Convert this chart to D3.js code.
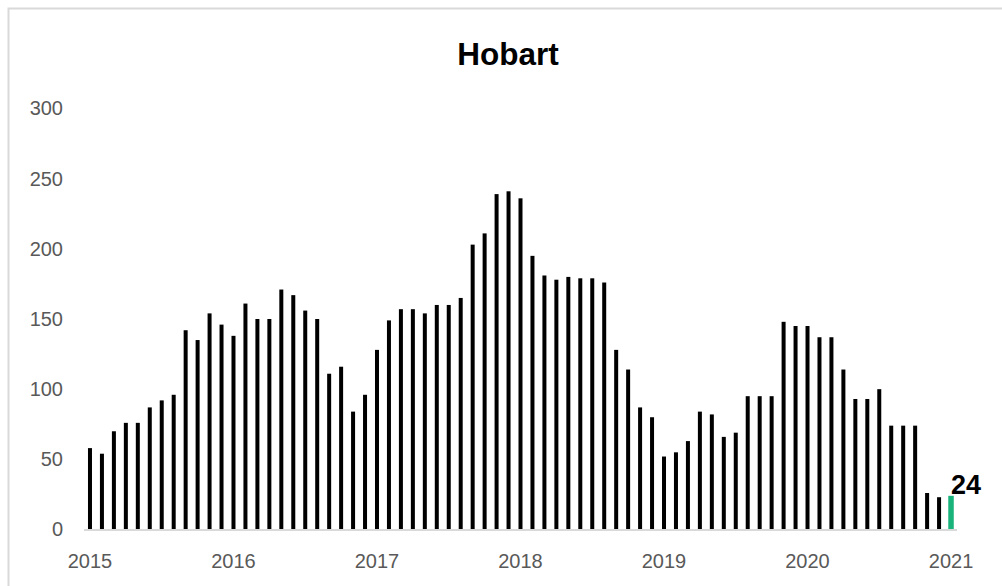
<!DOCTYPE html>
<html>
<head>
<meta charset="utf-8">
<script src="https://cdn.jsdelivr.net/npm/d3@7"></script>
<style>
    body { margin: 0; background: #fff; }
    svg { display: block; font-family: "Liberation Sans", Arial, sans-serif; }
</style>
</head>
<body>
<div id="chart-area"></div>
<script>
// Hobart - monthly values, Jan 2015 to Jan 2021
var chartTitle = "Hobart";
var values2015 = [58, 54, 70, 76, 76, 87, 92, 96, 142, 135, 154, 146];
var values2016 = [138, 161, 150, 150, 171, 167, 156, 150, 111, 116, 84, 96];
var values2017 = [128, 149, 157, 157, 154, 160, 160, 165, 203, 211, 239, 241];
var values2018 = [236, 195, 181, 178, 180, 179, 179, 176, 128, 114, 87, 80];
var values2019 = [52, 55, 63, 84, 82, 66, 69, 95, 95, 95, 148, 145];
var values2020 = [145, 137, 137, 114, 93, 93, 100, 74, 74, 74, 26, 23];
var values2021 = [24];
var yearLabels = ["2015", "2016", "2017", "2018", "2019", "2020", "2021"];
var yTicks = [0, 50, 100, 150, 200, 250, 300];

var values = [].concat(values2015, values2016, values2017, values2018,
    values2019, values2020, values2021);
var months = d3.timeMonth.range(new Date(2015, 0, 1), new Date(2021, 1, 1));
var data = months.map(function(m, i) { return { date: m, value: values[i] }; });

var width = 1002, height = 586;
var margin = { left: 84, right: 45, top: 108.5, bottom: 56.5 };

var svg = d3.select("#chart-area")
    .append("svg")
    .attr("width", width)
    .attr("height", height);

// chart border
svg.append("rect")
    .attr("x", 8.5)
    .attr("y", 8.5)
    .attr("width", 1100)
    .attr("height", 700)
    .attr("fill", "none")
    .attr("stroke", "#d9d9d9")
    .attr("stroke-width", 2);

var x = d3.scaleBand()
    .domain(d3.range(data.length))
    .range([margin.left, width - margin.right])
    .paddingInner(0.66)
    .paddingOuter(0.33);

var y = d3.scaleLinear()
    .domain([0, 300])
    .range([height - margin.bottom, margin.top]);

// title
svg.append("text")
    .attr("x", 508)
    .attr("y", 65)
    .attr("text-anchor", "middle")
    .attr("font-size", "31.5px")
    .attr("font-weight", "bold")
    .attr("fill", "#000")
    .text(chartTitle);

// y axis labels (no line, no gridlines)
var yAxis = svg.append("g")
    .attr("transform", "translate(" + (margin.left - 21) + ",0)")
    .call(d3.axisLeft(y).tickValues(yTicks).tickSize(0).tickPadding(0));
yAxis.select(".domain").remove();
yAxis.selectAll("text")
    .attr("font-size", "20px")
    .attr("font-family", "Liberation Sans, Arial, sans-serif")
    .attr("fill", "#595959");

// bars
svg.append("g").selectAll("rect")
    .data(data)
    .enter().append("rect")
    .attr("x", function(d, i) {
        var w = i === data.length - 1 ? 5.5 : 4;
        return x(i) + x.bandwidth() / 2 - w / 2;
    })
    .attr("width", function(d, i) { return i === data.length - 1 ? 5.5 : 4; })
    .attr("y", function(d) { return y(d.value); })
    .attr("height", function(d) { return y(0) - y(d.value); })
    .attr("fill", function(d, i) { return i === data.length - 1 ? "#19b37b" : "#000"; });

// baseline
svg.append("line")
    .attr("x1", margin.left)
    .attr("x2", width - margin.right)
    .attr("y1", y(0) + 0.5)
    .attr("y2", y(0) + 0.5)
    .attr("stroke", "#d9d9d9")
    .attr("stroke-width", 2);

// x labels under each January
svg.append("g").selectAll("text")
    .data(yearLabels)
    .enter().append("text")
    .attr("x", function(d, i) { return x(i * 12) + x.bandwidth() / 2; })
    .attr("y", 568)
    .attr("text-anchor", "middle")
    .attr("font-size", "20px")
    .attr("fill", "#595959")
    .text(function(d) { return d; });

// last value label
var last = data[data.length - 1];
svg.append("text")
    .attr("x", x(data.length - 1) + x.bandwidth() / 2)
    .attr("y", y(last.value) - 2)
    .attr("font-size", "27px")
    .attr("font-weight", "bold")
    .attr("fill", "#000")
    .text(last.value);
</script>
</body>
</html>
